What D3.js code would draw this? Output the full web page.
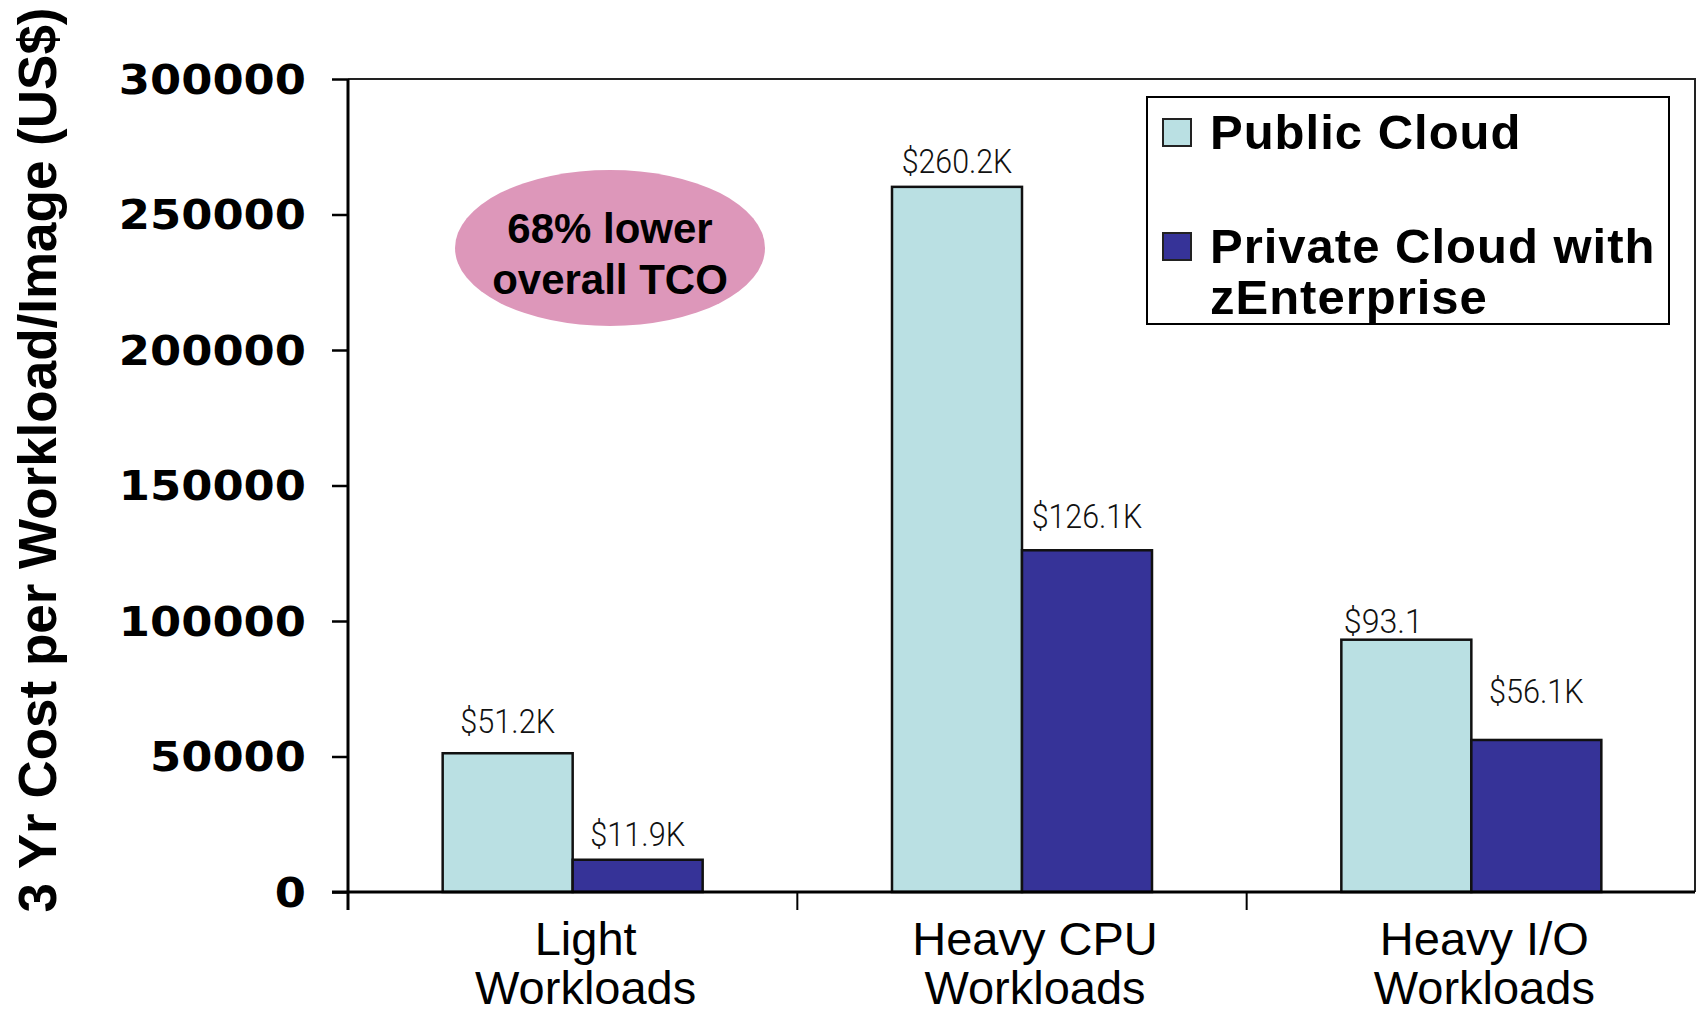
<!DOCTYPE html>
<html><head><meta charset="utf-8">
<script src="https://cdn.jsdelivr.net/npm/d3@7"></script>
<style>html,body{margin:0;padding:0;background:#fff;overflow:hidden}</style>
</head><body>
<svg id="chart" width="1696" height="1012"></svg>
<script>
const categories = [["Light","Workloads"],["Heavy CPU","Workloads"],["Heavy I/O","Workloads"]];
const seriesNames = ["Public Cloud","Private Cloud with zEnterprise"];
const publicCloud = [51200, 260200, 93100];
const privateCloud = [11900, 126100, 56100];
const publicLabels = ["$51.2K","$260.2K","$93.1"];
const privateLabels = ["$11.9K","$126.1K","$56.1K"];
const yTicks = [0,50000,100000,150000,200000,250000,300000];
const yTitle = "3 Yr Cost per Workload/Image (US$)";
const callout = ["68% lower","overall TCO"];

const colors = ["#BAE0E3","#363398"];
const labelDy = [[-20,-14],[-14,-22],[-7,-37]];
const labelDx = [[0,0],[0,0],[-23,0]];

const svg = d3.select("#chart");
const L=348, R=1695, T=79, B=892;
const x = d3.scaleBand().domain(d3.range(categories.length)).range([L,R+1]).paddingInner(0).paddingOuter(0);
const y = d3.scaleLinear().domain([0,300000]).range([B,T]);
const barW = 130;

// plot frame (top/right)
svg.append("path").attr("d",`M${L},${T}H${R}V${B}`).attr("fill","none").attr("stroke","#222").attr("stroke-width",2);

// bars
const series = [publicCloud, privateCloud];
const labels = [publicLabels, privateLabels];
series.forEach((vals,s)=>{
  svg.append("g").selectAll("rect").data(vals).join("rect")
    .attr("x",(d,i)=>x(i)+x.bandwidth()/2 - barW + s*barW)
    .attr("y",d=>y(d)).attr("width",barW).attr("height",d=>y(0)-y(d))
    .attr("fill",colors[s]).attr("stroke","#111").attr("stroke-width",2.5);
  svg.append("g").selectAll("text").data(vals).join("text")
    .attr("x",(d,i)=>x(i)+x.bandwidth()/2 - barW/2 + s*barW + labelDx[i][s])
    .attr("y",(d,i)=>y(d)+labelDy[i][s])
    .attr("text-anchor","middle")
    .attr("font-family","Roboto,'DejaVu Sans Condensed',sans-serif").attr("font-weight",300)
    .attr("font-size",34).attr("fill","#111")
    .text((d,i)=>labels[s][i])
    .each(function(){ const t=d3.select(this); const n=t.text().length; t.attr("textLength",n*15.8).attr("lengthAdjust","spacingAndGlyphs"); });
});

// y axis
const yAxis = d3.axisLeft(y).tickValues(yTicks).tickSize(16).tickSizeOuter(0).tickPadding(26).tickFormat(d3.format("d"));
const gy = svg.append("g").attr("transform",`translate(${L},0)`).call(yAxis);
gy.select(".domain").remove();
gy.selectAll(".tick line").attr("stroke","#000").attr("stroke-width",2.5);
gy.selectAll(".tick text").attr("font-family","'DejaVu Sans',sans-serif").attr("font-weight","bold")
  .attr("font-size",40).attr("fill","#000").attr("dy","0.36em")
  .each(function(d){ const n=String(d).length; d3.select(this).attr("textLength",n*31.2).attr("lengthAdjust","spacingAndGlyphs"); });
svg.append("line").attr("x1",L).attr("x2",L).attr("y1",T).attr("y2",B+18).attr("stroke","#000").attr("stroke-width",3);

// x axis
svg.append("line").attr("x1",L-16).attr("x2",R).attr("y1",B).attr("y2",B).attr("stroke","#000").attr("stroke-width",3);
const bounds = d3.range(categories.length).map(i=>x(i)).slice(1);
svg.append("g").selectAll("line").data(bounds).join("line")
  .attr("x1",d=>d).attr("x2",d=>d).attr("y1",B).attr("y2",B+18).attr("stroke","#000").attr("stroke-width",2);
const xl = svg.append("g").selectAll("text").data(categories).join("text")
  .attr("x",(d,i)=>x(i)+x.bandwidth()/2+13).attr("y",955)
  .attr("text-anchor","middle").attr("font-family","'Liberation Sans',Arial,sans-serif")
  .attr("font-size",47).attr("fill","#000");
xl.selectAll("tspan").data(d=>d).join("tspan")
  .attr("x",function(){return d3.select(this.parentNode).attr("x");})
  .attr("dy",(d,i)=>i?49:0).text(d=>d);

// y title
svg.append("text").attr("transform","translate(56,460) rotate(-90)")
  .attr("text-anchor","middle").attr("font-family","'Liberation Sans',Arial,sans-serif")
  .attr("font-weight","bold").attr("font-size",53).attr("fill","#000")
  .attr("textLength",905).attr("lengthAdjust","spacingAndGlyphs").text(yTitle);

// callout ellipse
svg.append("ellipse").attr("cx",610).attr("cy",248).attr("rx",155).attr("ry",78).attr("fill","#DD97BA");
svg.append("g").selectAll("text").data(callout).join("text")
  .attr("x",610).attr("y",(d,i)=>243+i*51).attr("text-anchor","middle")
  .attr("font-family","'Liberation Sans',Arial,sans-serif").attr("font-weight","bold")
  .attr("font-size",42).attr("fill","#000").text(d=>d);

// legend
const lg = svg.append("g");
lg.append("rect").attr("x",1147).attr("y",97).attr("width",522).attr("height",227).attr("fill","#fff").attr("stroke","#000").attr("stroke-width",2);
const legItems = [{name:["Public Cloud"],c:colors[0],y:119},{name:["Private Cloud with","zEnterprise"],c:colors[1],y:233}];
legItems.forEach(it=>{
  lg.append("rect").attr("x",1163).attr("y",it.y).attr("width",28).attr("height",27).attr("fill",it.c).attr("stroke","#222").attr("stroke-width",2);
  const t = lg.append("text").attr("x",1210).attr("y",it.y+30).attr("font-family","'Liberation Sans',Arial,sans-serif")
    .attr("font-weight","bold").attr("font-size",49).attr("letter-spacing",1).attr("fill","#000");
  it.name.forEach((n,i)=>t.append("tspan").attr("x",1210).attr("dy",i?51:0).text(n));
});
</script>
</body></html>
